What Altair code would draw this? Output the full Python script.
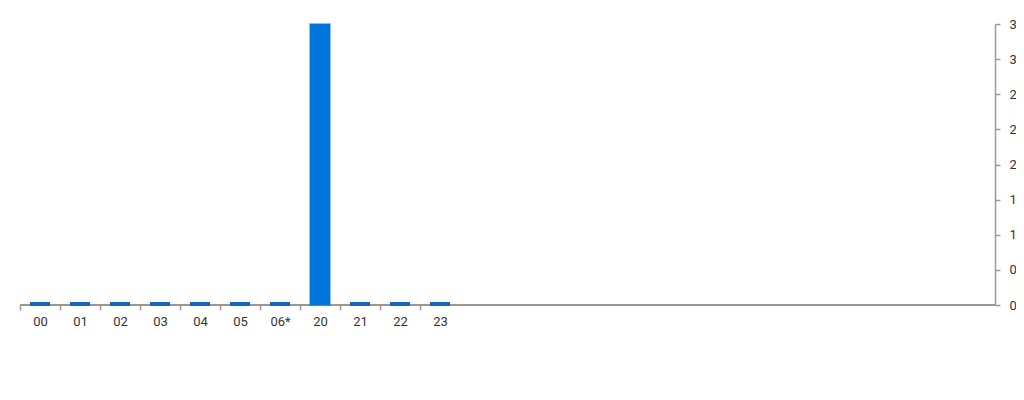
import altair as alt
import pandas as pd

hours = ["00", "01", "02", "03", "04", "05", "06*", "20", "21", "22", "23"]
counts = [0, 0, 0, 0, 0, 0, 0, 3, 0, 0, 0]
y_ticks = [0, 0.375, 0.75, 1.125, 1.5, 1.875, 2.25, 2.625, 3]

df = pd.DataFrame({"hour": hours, "count": counts})

W, H = 975, 281
FONT = "Roboto"
AXIS_GREY = "#999999"
LABEL = "#333333"

xscale = alt.Scale(domain=hours, range=[0, 440], paddingInner=0.5, paddingOuter=0.25)
yscale = alt.Scale(domain=[0, 3], nice=False)

xaxis = alt.Axis(title=None, domain=False, tickColor=AXIS_GREY, tickSize=5, tickWidth=1.5,
                 tickOffset=-20, labelOffset=20, labelAngle=0, labelFont=FONT, labelFontSize=13,
                 labelColor=LABEL, labelPadding=5, grid=False)
yaxis = alt.Axis(title=None, orient="right", values=y_ticks, format=".0f", domainColor=AXIS_GREY,
                 domainWidth=1.5, tickColor=AXIS_GREY, tickSize=5, tickWidth=1.5, labelFont=FONT,
                 labelFontSize=13, labelColor=LABEL, labelPadding=9, grid=False)

base = alt.Chart(df)

baseline = base.mark_rule(color=AXIS_GREY, strokeWidth=1.5).encode(
    x=alt.value(0), x2=alt.value(W), y=alt.value(H)
)

bars = base.transform_filter("datum.count > 0").mark_bar(
    color="#0075DB", stroke="#0075DB", strokeOpacity=0.45, strokeWidth=2
).encode(
    x=alt.X("hour:N", scale=xscale, axis=xaxis, sort=hours),
    y=alt.Y("count:Q", scale=yscale, axis=yaxis),
)

stubs = base.transform_filter("datum.count == 0").mark_tick(
    color="#1565C0", thickness=4, size=20, opacity=1, yOffset=-1
).encode(
    x=alt.X("hour:N", scale=xscale, axis=xaxis, sort=hours),
    y=alt.Y("count:Q", scale=yscale, axis=yaxis),
)

chart = alt.layer(baseline, bars, stubs).properties(
    width=W, height=H,
    autosize=alt.AutoSizeParams(type="none"),
    padding={"left": 12, "top": 16, "right": 21, "bottom": 60},
).configure_view(stroke=None)

chart.save("out.html", embed_options={"renderer": "svg", "actions": False})
